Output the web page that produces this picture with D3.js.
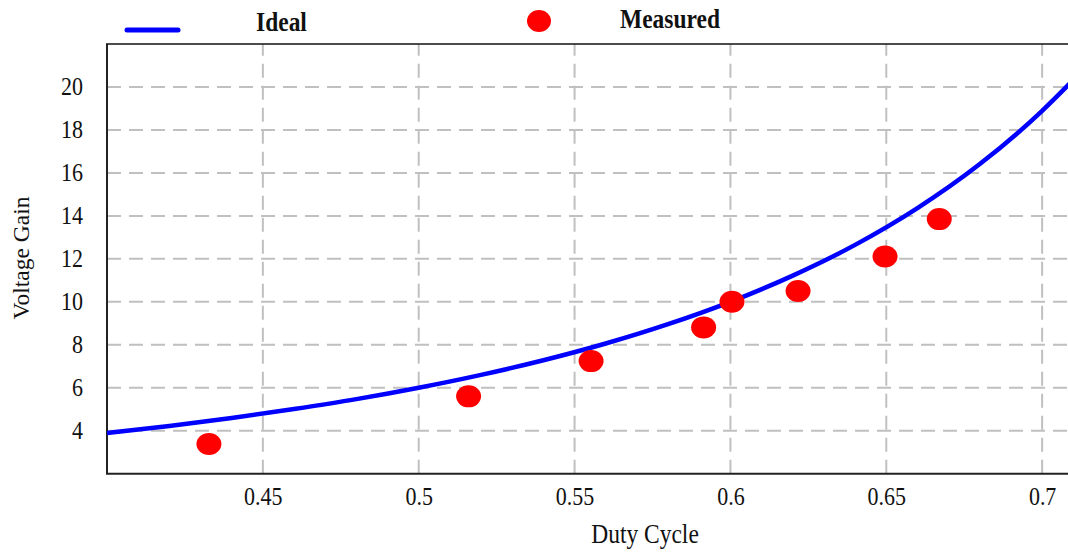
<!DOCTYPE html>
<html>
<head>
<meta charset="utf-8">
<script src="https://cdn.jsdelivr.net/npm/d3@7/dist/d3.min.js"></script>
<style>
  html, body { margin: 0; padding: 0; background: #fff; }
  svg { display: block; }
  text { font-family: "Liberation Serif", "Times New Roman", serif; fill: #111; }
</style>
</head>
<body>
<svg id="chart" width="1068" height="552"></svg>
<script>
// Ideal voltage gain curve vs duty cycle
const idealDuty = [0.40, 0.42, 0.44, 0.46, 0.48, 0.50, 0.52, 0.54, 0.56, 0.58, 0.60, 0.62, 0.64, 0.66, 0.68, 0.70, 0.71];
const idealGain = [3.89, 4.22, 4.59, 5.01, 5.47, 6.00, 6.60, 7.28, 8.06, 8.96, 10.00, 11.22, 12.65, 14.36, 16.41, 18.89, 20.33];

// Measured operating points
const measuredDuty = [0.4327, 0.516, 0.5553, 0.5914, 0.6005, 0.6217, 0.6496, 0.667];
const measuredGain = [3.38, 5.60, 7.24, 8.81, 10.0, 10.50, 12.11, 13.85];

// Tick labels
const xTicks = [0.45, 0.5, 0.55, 0.6, 0.65, 0.7];
const xTickLabels = ["0.45", "0.5", "0.55", "0.6", "0.65", "0.7"];
const yTicks = [4, 6, 8, 10, 12, 14, 16, 18, 20];

const svg = d3.select("#chart");
const plotLeft = 107, plotRight = 1068, plotTop = 44, plotBottom = 473.7;
const stretch = "scale(1,1.12)"; // slightly tall lettering

const x = d3.scaleLinear().domain([0.4, 0.7083]).range([plotLeft, plotRight]);
const y = d3.scaleLinear().domain([2, 22]).range([plotBottom, plotTop]);

svg.append("defs").append("clipPath").attr("id", "plot-clip")
  .append("rect").attr("x", plotLeft).attr("y", plotTop)
  .attr("width", plotRight - plotLeft).attr("height", plotBottom - plotTop);

// Grid
const grid = svg.append("g").attr("stroke", "#c0c0c0").attr("stroke-width", 2)
  .attr("stroke-dasharray", "14,8").attr("fill", "none");
grid.selectAll("line.v").data(xTicks).join("line").attr("class", "v")
  .attr("x1", d => x(d)).attr("x2", d => x(d))
  .attr("y1", plotBottom).attr("y2", plotTop);
grid.selectAll("line.h").data(yTicks).join("line").attr("class", "h")
  .attr("y1", d => y(d)).attr("y2", d => y(d))
  .attr("x1", plotLeft).attr("x2", plotRight);

// Axes
const xAxis = d3.axisBottom(x).tickValues(xTicks).tickSize(0).tickPadding(12.5)
  .tickFormat((d, i) => xTickLabels[i]);
const gx = svg.append("g").attr("transform", `translate(0,${plotBottom})`).call(xAxis);
gx.select(".domain").remove();
gx.selectAll("text").attr("font-size", 22).style("font-family", "'Liberation Serif', serif")
  .attr("fill", "#111").attr("transform", stretch);

const yAxis = d3.axisLeft(y).tickValues(yTicks).tickSize(0).tickPadding(24);
const gy = svg.append("g").attr("transform", `translate(${plotLeft},0)`).call(yAxis);
gy.select(".domain").remove();
gy.selectAll("text").attr("font-size", 22).style("font-family", "'Liberation Serif', serif")
  .attr("fill", "#111").attr("transform", stretch);

// Frame lines: left, bottom, top
svg.append("line").attr("x1", plotLeft).attr("x2", plotLeft).attr("y1", plotTop).attr("y2", plotBottom)
  .attr("stroke", "#222").attr("stroke-width", 2);
svg.append("line").attr("x1", plotLeft - 1).attr("x2", plotRight).attr("y1", plotBottom).attr("y2", plotBottom)
  .attr("stroke", "#222").attr("stroke-width", 2);
svg.append("line").attr("x1", plotLeft - 1).attr("x2", plotRight).attr("y1", plotTop).attr("y2", plotTop)
  .attr("stroke", "#111").attr("stroke-width", 1.5);

// Ideal curve
const plot = svg.append("g").attr("clip-path", "url(#plot-clip)");
const line = d3.line().x(d => x(d[0])).y(d => y(d[1])).curve(d3.curveMonotoneX);
plot.append("path")
  .datum(idealDuty.map((d, i) => [d, idealGain[i]]))
  .attr("d", line).attr("fill", "none").attr("stroke", "#0000ff").attr("stroke-width", 4.5);

// Measured points
svg.append("g").selectAll("ellipse")
  .data(measuredDuty.map((d, i) => [d, measuredGain[i]]))
  .join("ellipse")
  .attr("cx", d => x(d[0])).attr("cy", d => y(d[1]))
  .attr("rx", 12.5).attr("ry", 11).attr("fill", "#ff0000");

// Axis titles
svg.append("text").attr("transform", `translate(645,543) ${stretch}`).attr("text-anchor", "middle")
  .attr("font-size", 23.5).text("Duty Cycle");
svg.append("text").attr("transform", "translate(29,258) rotate(-90)").attr("text-anchor", "middle")
  .attr("font-size", 23.5).text("Voltage Gain");

// Legend
const legend = svg.append("g");
legend.append("line").attr("x1", 127).attr("x2", 178).attr("y1", 30).attr("y2", 30)
  .attr("stroke", "#0000ff").attr("stroke-width", 5).attr("stroke-linecap", "round");
legend.append("text").attr("transform", `translate(256,31) ${stretch}`)
  .attr("font-size", 23.5).attr("font-weight", "bold").text("Ideal");
legend.append("ellipse").attr("cx", 539).attr("cy", 21).attr("rx", 12).attr("ry", 11).attr("fill", "#ff0000");
legend.append("text").attr("transform", `translate(620,28) ${stretch}`)
  .attr("font-size", 23.5).attr("font-weight", "bold").text("Measured");
</script>
</body>
</html>
